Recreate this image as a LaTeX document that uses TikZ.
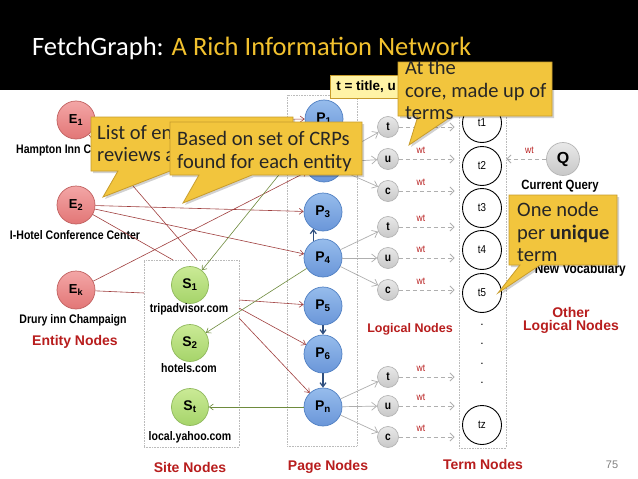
\documentclass[tikz,border=0pt]{standalone}
\usepackage{fontspec}
\setmainfont{Liberation Sans}
\newfontfamily\calibri{Carlito}
\newfontfamily\narrowsans[FakeStretch=0.85]{Liberation Sans}
\usetikzlibrary{arrows.meta}
\definecolor{gold}{HTML}{F2C53D}
\definecolor{golddraw}{HTML}{C79C2C}
\definecolor{titleyellow}{HTML}{F2C12E}
\definecolor{entdraw}{HTML}{C0605F}
\definecolor{sitedraw}{HTML}{8FB85C}
\definecolor{pagedraw}{HTML}{4F7FC2}
\definecolor{logdraw}{HTML}{B5B5B5}
\definecolor{edgered}{HTML}{A0403F}
\definecolor{edgegreen}{HTML}{6E8B3D}
\definecolor{edgeblue}{HTML}{2F4F7F}
\definecolor{labelred}{HTML}{B81D1D}
\definecolor{boxgray}{HTML}{BBBBBB}
\definecolor{lightyellow}{HTML}{FFF3A6}
\definecolor{calltext}{HTML}{262626}
\definecolor{arrgray}{HTML}{AFAFAF}
\begin{document}
\begin{tikzpicture}[x=1pt,y=-1pt,
  entnode/.style={circle, minimum size=38pt, inner sep=0pt, top color={rgb,255:red,243;green,166;blue,166}, bottom color={rgb,255:red,226;green,118;blue,118}, draw=entdraw, line width=0.7pt, font=\bfseries\fontsize{13}{13}\selectfont},
  sitenode/.style={circle, minimum size=37pt, inner sep=0pt, top color={rgb,255:red,202;green,234;blue,150}, bottom color={rgb,255:red,166;green,212;blue,106}, draw=sitedraw, line width=0.7pt, font=\bfseries\fontsize{14}{14}\selectfont},
  pagenode/.style={circle, minimum size=38pt, inner sep=0pt, top color={rgb,255:red,150;green,188;blue,236}, bottom color={rgb,255:red,106;green,150;blue,217}, draw=pagedraw, line width=0.7pt, font=\bfseries\fontsize{14}{14}\selectfont},
  lognode/.style={circle, minimum size=21pt, inner sep=0pt, top color={rgb,255:red,232;green,232;blue,232}, bottom color={rgb,255:red,200;green,200;blue,200}, draw=logdraw, line width=0.7pt, font=\narrowsans\bfseries\fontsize{12}{12}\selectfont},
  termnode/.style={circle, minimum size=39pt, inner sep=0pt, fill=white, draw=black, line width=0.9pt, font=\narrowsans\fontsize{11.5}{11.5}\selectfont},
  dotbox/.style={rectangle, draw=boxgray, densely dotted, line width=0.6pt, inner sep=0pt},
  namelabel/.style={font=\narrowsans\bfseries\fontsize{12.4}{12.4}\selectfont, inner sep=0pt},
  redlabel/.style={font=\bfseries\fontsize{14}{14}\selectfont, text=labelred, inner sep=0pt, align=center},
  wtlabel/.style={font=\narrowsans\fontsize{10}{10}\selectfont, text=labelred, inner sep=0pt},
  redarr/.style={draw=edgered, line width=0.6pt, -{Straight Barb[length=4pt,width=6pt]}},
  redline/.style={draw=edgered, line width=0.6pt},
  greenarr/.style={draw=edgegreen, line width=0.6pt, -{Straight Barb[length=4pt,width=6pt]}},
  bluearr/.style={draw=edgeblue, line width=1.2pt, -{Straight Barb[length=4pt,width=6pt]}},
  grayarr/.style={draw=arrgray, line width=0.7pt, -{Straight Barb[length=5pt,width=8pt]}},
  wtarr/.style={draw=arrgray, line width=1pt, dash pattern=on 4pt off 3pt, -{Straight Barb[length=4pt,width=8pt]}},
  calloutshape/.style={fill=gold, draw=golddraw, line width=0.8pt},
  callshadow/.style={fill=black, opacity=0.18},
  calltextline/.style={anchor=base west, inner sep=0pt, text=calltext, font=\calibri\fontsize{20.5}{23}\selectfont}
]
\useasboundingbox (0,0) rectangle (638,479);
\fill[white] (0,0) rectangle (638,479);
\fill[black] (0,0) rectangle (638,90);
\node[anchor=base west, inner sep=0pt, font=\calibri\fontsize{26.5}{26.5}\selectfont] (title) at (32,55)
  {\textcolor{white}{FetchGraph:} \textcolor{titleyellow}{A Rich Information Network}};

% boxes
\node[dotbox, fill=white, minimum width=95pt, minimum height=187pt] (sitebox) at (191.5,353.5) {};
\node[dotbox, minimum width=70pt, minimum height=351pt] (pagebox) at (322,270.5) {};
\node[dotbox, minimum width=47pt, minimum height=353pt] (termbox) at (482.5,271.5) {};

% entity nodes
\node[entnode] (E1) at (76,120) {E\textsubscript{1}};
\node[entnode] (E2) at (76,205) {E\textsubscript{2}};
\node[entnode] (Ek) at (76,290) {E\textsubscript{k}};
\node[namelabel, anchor=west] (E1lab) at (16,150) {Hampton Inn Champaign};
\node[namelabel] (E2lab) at (75,235) {I-Hotel Conference Center};
\node[namelabel] (Eklab) at (73,320) {Drury inn Champaign};
\node[redlabel] (entlab) at (75,342) {Entity Nodes};

% site nodes
\node[sitenode] (S1) at (190,285) {S\textsubscript{1}};
\node[sitenode] (S2) at (190,343) {S\textsubscript{2}};
\node[sitenode] (St) at (190,407) {S\textsubscript{t}};
\node[namelabel] (S1lab) at (189,309) {tripadvisor.com};
\node[namelabel] (S2lab) at (189,368) {hotels.com};
\node[namelabel] (Stlab) at (190,437) {local.yahoo.com};
\node[redlabel] (sitelab) at (190,467) {Site Nodes};

% page nodes
\node[pagenode] (P1) at (324,119) {P\textsubscript{1}};
\node[pagenode] (P2) at (324,163) {P\textsubscript{2}};
\node[pagenode] (P3) at (323,212) {P\textsubscript{3}};
\node[pagenode] (P4) at (323,258) {P\textsubscript{4}};
\node[pagenode] (P5) at (323,306) {P\textsubscript{5}};
\node[pagenode] (P6) at (323,354) {P\textsubscript{6}};
\node[pagenode] (Pn) at (323,407) {P\textsubscript{n}};
\node[redlabel] (pagelab) at (328,467) {Page Nodes};

% logical nodes
\node[lognode] (l1t) at (388,127) {t};
\node[lognode] (l1u) at (388,159) {u};
\node[lognode] (l1c) at (388,191) {c};
\node[lognode] (l2t) at (388,227) {t};
\node[lognode] (l2u) at (388,258) {u};
\node[lognode] (l2c) at (388,290) {c};
\node[lognode] (l3t) at (388,377) {t};
\node[lognode] (l3u) at (388,406) {u};
\node[lognode] (l3c) at (388,437) {c};
\node[redlabel, font=\bfseries\fontsize{12.5}{12.5}\selectfont] (loglab) at (410,329) {Logical Nodes};

% term nodes
\node[termnode] (t1) at (482,123) {t1};
\node[termnode] (t2) at (482,166) {t2};
\node[termnode] (t3) at (482,208) {t3};
\node[termnode] (t4) at (482,250) {t4};
\node[termnode] (t5) at (482,293) {t5};
\node[termnode] (tz) at (482,425) {tz};
\node[inner sep=0pt, font=\fontsize{12}{12}\selectfont] (d1) at (482,325) {.};
\node[inner sep=0pt, font=\fontsize{12}{12}\selectfont] (d2) at (482,344) {.};
\node[inner sep=0pt, font=\fontsize{12}{12}\selectfont] (d3) at (482,364) {.};
\node[inner sep=0pt, font=\fontsize{12}{12}\selectfont] (d4) at (482,383) {.};
\node[redlabel] (termlab) at (483,464) {Term Nodes};

% query and other
\node[lognode, minimum size=33pt, font=\bfseries\fontsize{16}{16}\selectfont] (Q) at (563,159) {Q};
\node[namelabel, font=\narrowsans\bfseries\fontsize{13.4}{13.4}\selectfont] (Qlab) at (560,186) {Current Query};
\node[namelabel, font=\narrowsans\bfseries\fontsize{14}{14}\selectfont, anchor=east] (vocab) at (626,270) {New Vocabulary};
\node[redlabel] (otherlab) at (571,320) {Other\\[-1pt]Logical Nodes};
\node[inner sep=0pt, text=gray, font=\fontsize{11}{11}\selectfont] (pnum) at (612,465) {75};

% coordinates on the site box
\coordinate (sb1) at (197,260);
\coordinate (sb2) at (173,260);
\coordinate (sb3) at (144,293);
\coordinate (sa1) at (239,300);
\coordinate (sa2) at (239,308);
\coordinate (sa3) at (239,318);

% red edges
\draw[redarr] (E1) -- (P1);
\draw[redline] (E1) -- (sb1);
\draw[redarr] (E2) -- (P3);
\draw[redarr] (E2) -- (P4);
\draw[redline] (E2) -- (sb2);
\draw[redarr] (Ek) -- (P2);
\draw[redline] (Ek) -- (sb3);
\draw[redarr] (sa1) -- (P5);
\draw[redarr] (sa2) -- (P6);
\draw[redarr] (sa3) -- (Pn);

% green edges
\draw[greenarr] (P1) -- (S1);
\draw[greenarr] (P4) -- (S2);
\draw[greenarr] (Pn) -- (St);

% blue edges
\draw[bluearr] (P4.120) -- (P3.240);
\draw[bluearr] (P5) -- (P6);
\draw[bluearr] (P6) -- (Pn);

% gray edges
\foreach \p/\g in {P2/1, P4/2, Pn/3} {
  \draw[grayarr] (\p) -- (l\g t);
  \draw[grayarr] (\p) -- (l\g u);
  \draw[grayarr] (\p) -- (l\g c);
}
\foreach \l in {l1t,l1u,l1c,l2t,l2u,l2c,l3t,l3u,l3c} {
  \draw[wtarr, shorten >=4pt] (\l.east) -- (\l.east -| termbox.west) node[wtlabel, pos=0.37, above=5pt] {wt};
}
\draw[wtarr] (Q.west) -- (Q.west -| termbox.east) node[wtlabel, pos=0.42, above=5pt] {wt};

% legend box
\node[draw=golddraw, fill=lightyellow, line width=0.6pt, anchor=west, minimum height=23pt, inner xsep=6pt, font=\bfseries\fontsize{13.5}{13.5}\selectfont] (legend) at (330,86.5) {t = title, u = url, c = content};

% callout 1
\fill[callshadow] (93,119) -- (295,119) -- (295,173) -- (172,173) -- (105,199) -- (120,173) -- (93,173) -- cycle;
\draw[calloutshape] (91,117) -- (293,117) -- (293,171) -- (170,171) -- (103,197) -- (118,171) -- (91,171) -- cycle;
\node[calltextline] (c1a) at (97,139) {List of entities with};
\node[calltextline] (c1b) at (97,161) {reviews available};

% callout 2
\fill[callshadow] (172,124) -- (364,124) -- (364,177) -- (254,177) -- (185,205) -- (201,177) -- (172,177) -- cycle;
\draw[calloutshape] (170,122) -- (362,122) -- (362,175) -- (252,175) -- (183,203) -- (199,175) -- (170,175) -- cycle;
\node[calltextline] (c2a) at (177,145) {Based on set of CRPs};
\node[calltextline] (c2b) at (177,168) {found for each entity};

% callout 3
\fill[callshadow] (400,64) -- (554,64) -- (554,118) -- (454,118) -- (411,147) -- (420,118) -- (400,118) -- cycle;
\draw[calloutshape] (398,62) -- (552,62) -- (552,116) -- (452,116) -- (409,145) -- (418,116) -- (398,116) -- cycle;
\node[calltextline] (c3a) at (405,74) {At the};
\node[calltextline] (c3b) at (405,97) {core, made up of};
\node[calltextline] (c3c) at (405,119) {terms};

% callout 4
\fill[callshadow] (511,197) -- (619,197) -- (619,267) -- (542,267) -- (500,295) -- (522,267) -- (511,267) -- cycle;
\draw[calloutshape] (509,195) -- (617,195) -- (617,265) -- (540,265) -- (498,293) -- (520,265) -- (509,265) -- cycle;
\node[calltextline] (c4a) at (517,216) {One node};
\node[calltextline] (c4b) at (517,239) {per \textbf{unique}};
\node[calltextline] (c4c) at (517,261) {term};
\end{tikzpicture}
\end{document}
